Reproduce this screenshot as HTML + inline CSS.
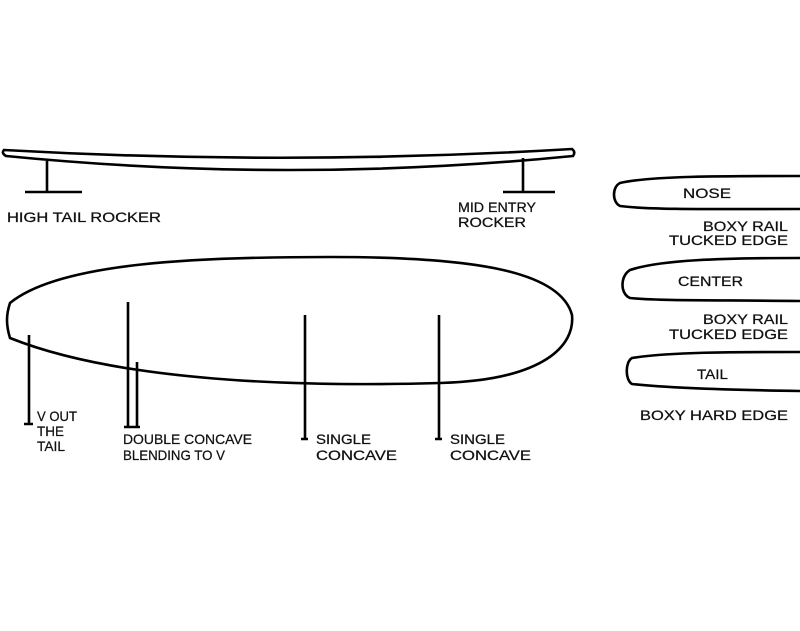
<!DOCTYPE html>
<html><head><meta charset="utf-8"><style>
html,body{margin:0;padding:0;background:#fff;}
svg{display:block}
text{font-family:"Liberation Sans",sans-serif;font-size:14px;fill:#111;stroke:#111;stroke-width:0.25;}
</style></head><body>
<svg width="800" height="631" viewBox="0 0 800 631" xmlns="http://www.w3.org/2000/svg">
<g fill="none" stroke="#000" stroke-width="2.6" stroke-linecap="butt">
<path d="M4,150 Q290,166 572,149 Q576,152 573,156 Q290,184 6,156 Q1,153 4,150 Z"/>
<path d="M47,161 V192 M25,192 H82"/>
<path d="M523,158 V192 M503,192 H555"/>
<path d="M10,303 C60,262 200,257 330,257 C470,257 560,270 572,315 C575,345 545,380 440,383 C300,387 120,382 10,338 C6,325 6,315 10,303 Z"/>
<path d="M29,335 V424 M24,424 H33"/>
<path d="M128,302 V427 M137,362 V427 M124,427 H140"/>
<path d="M305,315 V439 M301,439 H308"/>
<path d="M439,315 V439 M435,439 H442"/>
<path d="M800,176 C720,176 650,176 620,183 C612,187 612,202 620,206 C650,210 720,209 800,209"/>
<path d="M800,258 C720,258 660,260 630,270 C620,276 620,294 630,298 C660,301 720,300 800,301"/>
<path d="M800,352 C730,352 670,352 632,358 C625,362 625,380 632,384 C670,388 730,390 800,391"/>
</g>
<g>
<text x="7" y="222" textLength="154" lengthAdjust="spacingAndGlyphs">HIGH TAIL ROCKER</text>
<text x="458" y="212" textLength="78" lengthAdjust="spacingAndGlyphs">MID ENTRY</text>
<text x="458" y="227" textLength="68" lengthAdjust="spacingAndGlyphs">ROCKER</text>
<text x="37" y="421" textLength="40" lengthAdjust="spacingAndGlyphs">V OUT</text>
<text x="37" y="436" textLength="27" lengthAdjust="spacingAndGlyphs">THE</text>
<text x="37" y="451" textLength="28" lengthAdjust="spacingAndGlyphs">TAIL</text>
<text x="123" y="444" textLength="129" lengthAdjust="spacingAndGlyphs">DOUBLE  CONCAVE</text>
<text x="123" y="460" textLength="102" lengthAdjust="spacingAndGlyphs">BLENDING TO V</text>
<text x="316" y="444" textLength="55" lengthAdjust="spacingAndGlyphs">SINGLE</text>
<text x="316" y="460" textLength="81" lengthAdjust="spacingAndGlyphs">CONCAVE</text>
<text x="450" y="444" textLength="55" lengthAdjust="spacingAndGlyphs">SINGLE</text>
<text x="450" y="460" textLength="81" lengthAdjust="spacingAndGlyphs">CONCAVE</text>
<text x="683" y="198" textLength="48" lengthAdjust="spacingAndGlyphs">NOSE</text>
<text x="703" y="231" textLength="85" lengthAdjust="spacingAndGlyphs">BOXY RAIL</text>
<text x="669" y="245" textLength="119" lengthAdjust="spacingAndGlyphs">TUCKED EDGE</text>
<text x="678" y="286" textLength="65" lengthAdjust="spacingAndGlyphs">CENTER</text>
<text x="703" y="324" textLength="85" lengthAdjust="spacingAndGlyphs">BOXY RAIL</text>
<text x="669" y="339" textLength="119" lengthAdjust="spacingAndGlyphs">TUCKED EDGE</text>
<text x="697" y="379" textLength="31" lengthAdjust="spacingAndGlyphs">TAIL</text>
<text x="640" y="420" textLength="148" lengthAdjust="spacingAndGlyphs">BOXY HARD EDGE</text>
</g>
</svg>
</body></html>
